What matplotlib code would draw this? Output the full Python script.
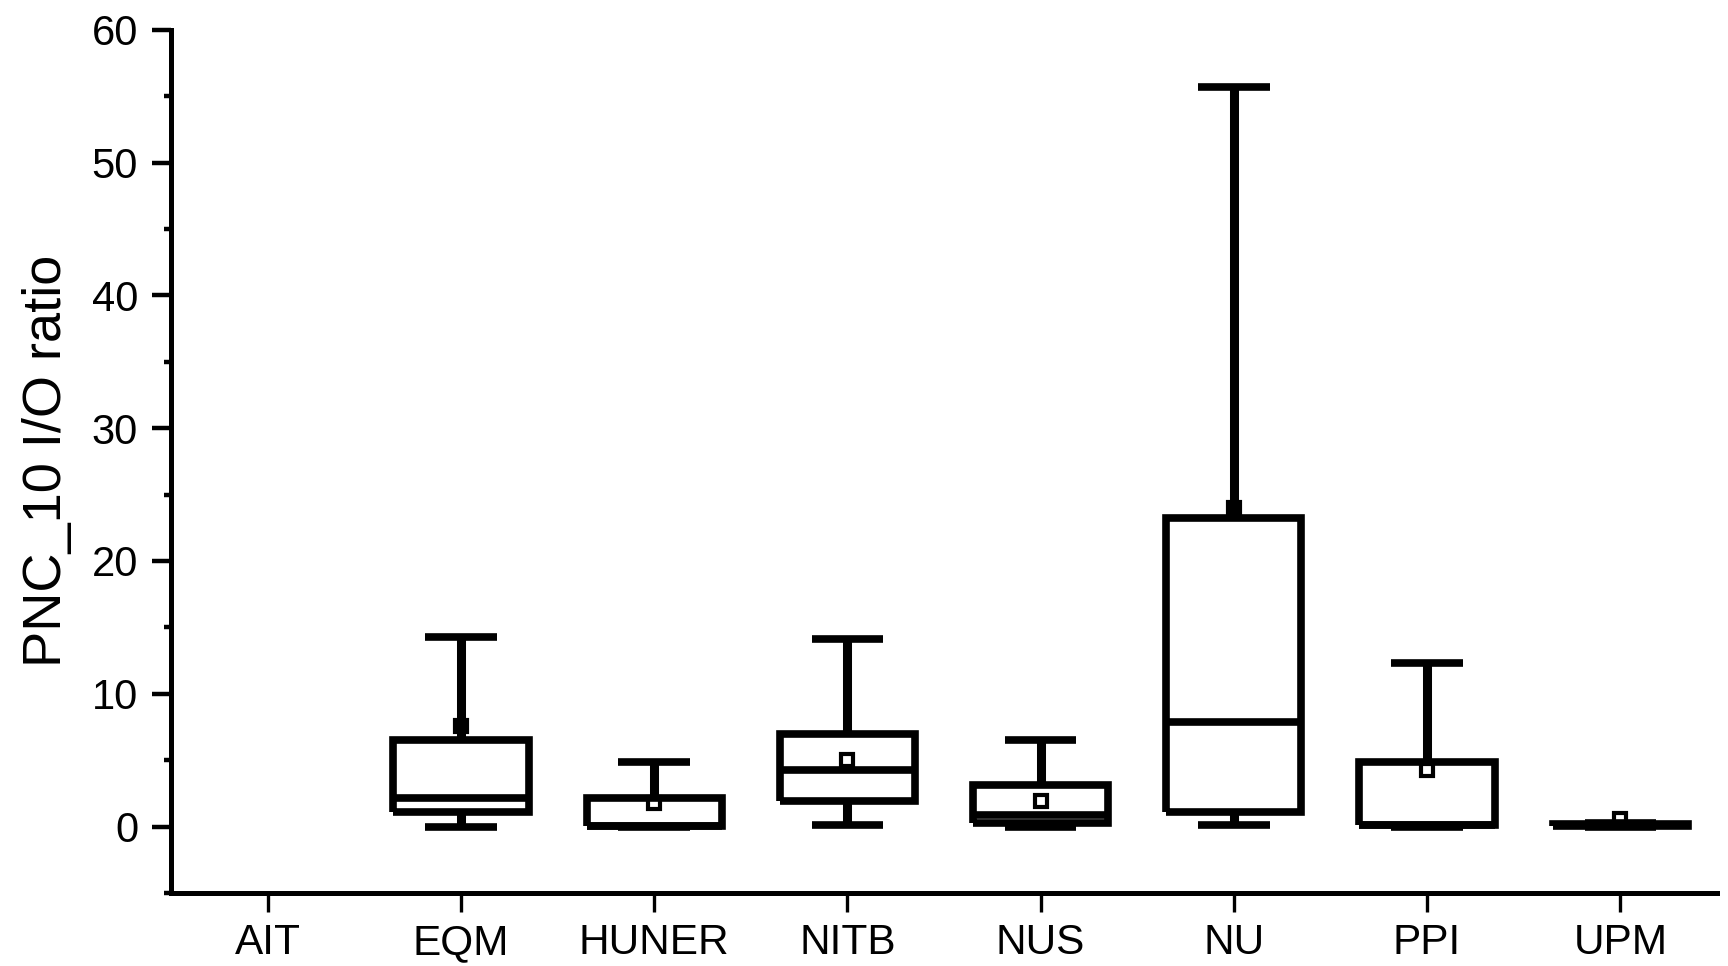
import matplotlib
matplotlib.use("Agg")
import matplotlib.pyplot as plt
from matplotlib.ticker import MultipleLocator

plt.rcParams['font.family'] = ['Liberation Sans', 'DejaVu Sans']

# categories and box statistics
sites = ['AIT', 'EQM', 'HUNER', 'NITB', 'NUS', 'NU', 'PPI', 'UPM']
boxed = ['EQM', 'HUNER', 'NITB', 'NUS', 'NU', 'PPI', 'UPM']   # AIT has no data
whislo = [0.0, 0.0, 0.1, 0.0, 0.1, 0.0, 0.0]
q1 = [1.09, 0.02, 1.9, 0.3, 1.1, 0.1, 0.05]
med = [2.15, 0.05, 4.25, 0.9, 7.9, 0.1, 0.1]
q3 = [6.5, 2.15, 7.0, 3.1, 23.2, 4.86, 0.2]
whishi = [14.3, 4.86, 14.1, 6.5, 55.7, 12.3, 0.3]
means = [7.6, 1.8, 5.0, 1.9, 24.0, 4.25, 0.55]

stats = []
for i, name in enumerate(boxed):
    stats.append(dict(label=name, whislo=whislo[i], q1=q1[i], med=med[i],
                      q3=q3[i], whishi=whishi[i], mean=means[i], fliers=[]))
positions = [sites.index(n) + 1 for n in boxed]

fig = plt.figure(figsize=(17.28, 9.66), dpi=100)
ax = fig.add_axes([0.099, 0.0756, 0.8946, 0.8936])

lw = 5.5
line_kw = dict(color='black', linewidth=lw, solid_joinstyle='miter', solid_capstyle='butt')
ax.bxp(stats, positions=positions, widths=0.7, capwidths=0.37, showmeans=True,
       showfliers=False, manage_ticks=False,
       boxprops=line_kw,
       medianprops=line_kw,
       whiskerprops=dict(color='black', linewidth=6.5, solid_capstyle='butt'),
       capprops=line_kw,
       meanprops=dict(marker='s', markersize=9, markerfacecolor='none',
                      markeredgecolor='black', markeredgewidth=3))

ax.set_xlim(0.5, 8.5)
ax.set_ylim(-5, 60)
ax.set_xticks(range(1, len(sites) + 1))
ax.set_xticklabels(sites)
ax.yaxis.set_major_locator(MultipleLocator(10))
ax.yaxis.set_minor_locator(MultipleLocator(5))

for s in ['top', 'right']:
    ax.spines[s].set_visible(False)
for s in ['left', 'bottom']:
    ax.spines[s].set_linewidth(3.6)

ax.tick_params(axis='y', which='major', direction='out', length=13.7, width=3.2,
               labelsize=30, pad=10)
ax.tick_params(axis='y', which='minor', direction='out', length=5, width=3.2)
ax.tick_params(axis='x', which='major', direction='out', length=13.7, width=2.4,
               labelsize=30.5, pad=8)

ax.set_ylabel('PNC_10 I/O ratio', fontsize=39, labelpad=14)

fig.savefig('out.png', dpi=100)
